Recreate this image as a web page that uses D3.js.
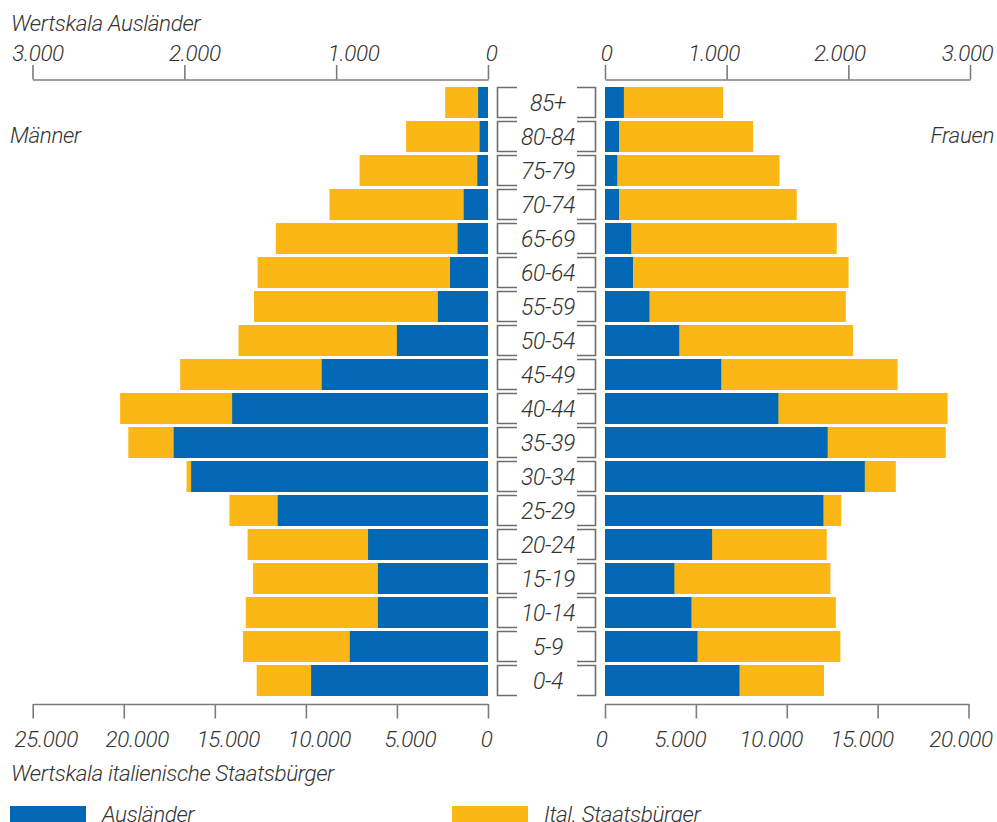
<!DOCTYPE html>
<html>
<head>
<meta charset="utf-8">
<script src="https://cdn.jsdelivr.net/npm/d3@7"></script>
<style>
  body { margin: 0; background: #fff; }
  svg text { font-family: Roboto, "Liberation Sans", sans-serif; font-weight: 300; font-style: italic; fill: #333; letter-spacing: -0.4px; }
</style>
</head>
<body>
<div id="container"></div>
<script>
// age groups, youngest first
const ages = ['0-4', '5-9', '10-14', '15-19', '20-24', '25-29', '30-34', '35-39', '40-44',
  '45-49', '50-54', '55-59', '60-64', '65-69', '70-74', '75-79', '80-84', '85+'];

// Männer
const maleForeign = [1165, 910, 725, 725, 790, 1385, 1955, 2070, 1685, 1095, 600, 330, 250, 200, 160, 70, 55, 65];
const maleItalian = [12700, 13450, 13300, 12900, 13200, 14200, 16550, 19750, 20200, 16900, 13700, 12850, 12650, 11650, 8700, 7050, 4500, 2350];

// Frauen
const femaleForeign = [1105, 760, 710, 570, 880, 1795, 2135, 1830, 1425, 955, 610, 365, 230, 215, 115, 100, 115, 155];
const femaleItalian = [12050, 12950, 12700, 12400, 12200, 13000, 16000, 18750, 18850, 16100, 13650, 13250, 13400, 12750, 10550, 9600, 8150, 6500];

const foreignTicks = [0, 1000, 2000, 3000];
const italianTicksLeft = [0, 5000, 10000, 15000, 20000, 25000];
const italianTicksRight = [0, 5000, 10000, 15000, 20000];

const blue = '#0267b4';
const yellow = '#fbb715';
const axisGrey = '#7c7c7c';
const fontSize = '22.5px';

const w = 997;
const h = 822;
const leftZero = 488;
const rightZero = 605;

const de = d3.formatLocale({ decimal: ',', thousands: '.', grouping: [3], currency: ['', '€'] });
const fmt = de.format(',');

const rows = ages.map((a, i) => ({
  age: a,
  mf: maleForeign[i], mi: maleItalian[i],
  ff: femaleForeign[i], fi: femaleItalian[i]
}));

const svg = d3.select('#container')
  .append('svg')
  .attr('width', w)
  .attr('height', h);

// scales
const yScale = d3.scaleBand()
  .domain(ages.slice().reverse())
  .range([87, 696])
  .paddingInner(3 / 34)
  .paddingOuter(0);

const xForeignL = d3.scaleLinear().domain([0, 3000]).range([leftZero, 32.5]);
const xForeignR = d3.scaleLinear().domain([0, 3000]).range([rightZero, 970]);
const xItalL = d3.scaleLinear().domain([0, 25000]).range([leftZero, 32.7]);
const xItalR = d3.scaleLinear().domain([0, 20000]).range([rightZero, 968.5]);

// yellow bars (italian citizens) behind
svg.selectAll('.bar-mi')
  .data(rows)
  .enter()
  .append('rect')
  .attr('class', 'bar-mi')
  .attr('x', d => xItalL(d.mi))
  .attr('y', d => yScale(d.age))
  .attr('width', d => leftZero - xItalL(d.mi))
  .attr('height', yScale.bandwidth())
  .attr('fill', yellow);

svg.selectAll('.bar-fi')
  .data(rows)
  .enter()
  .append('rect')
  .attr('class', 'bar-fi')
  .attr('x', rightZero)
  .attr('y', d => yScale(d.age))
  .attr('width', d => xItalR(d.fi) - rightZero)
  .attr('height', yScale.bandwidth())
  .attr('fill', yellow);

// blue bars (foreigners) on top, own scale
svg.selectAll('.bar-mf')
  .data(rows)
  .enter()
  .append('rect')
  .attr('class', 'bar-mf')
  .attr('x', d => xForeignL(d.mf))
  .attr('y', d => yScale(d.age))
  .attr('width', d => leftZero - xForeignL(d.mf))
  .attr('height', yScale.bandwidth())
  .attr('fill', blue);

svg.selectAll('.bar-ff')
  .data(rows)
  .enter()
  .append('rect')
  .attr('class', 'bar-ff')
  .attr('x', rightZero)
  .attr('y', d => yScale(d.age))
  .attr('width', d => xForeignR(d.ff) - rightZero)
  .attr('height', yScale.bandwidth())
  .attr('fill', blue);

// age labels with brackets
const lab = svg.selectAll('.age')
  .data(rows)
  .enter()
  .append('g')
  .attr('class', 'age')
  .attr('transform', d => `translate(0,${yScale(d.age)})`);

const bh = yScale.bandwidth() - 0.5;
lab.append('path')
  .attr('d', `M517,0.5H497.5V${bh}H517M577,0.5H595.5V${bh}H577`)
  .attr('fill', 'none')
  .attr('stroke', '#6e6e6e')
  .attr('stroke-width', 1.6);

lab.append('text')
  .attr('x', 548)
  .attr('y', yScale.bandwidth() / 2)
  .attr('dy', '0.36em')
  .attr('text-anchor', 'middle')
  .style('font-size', '23px')
  .text(d => d.age);

// axes; labels in the original sit a little off their ticks
function styleAxis(g, shift) {
  g.select('.domain').attr('stroke', axisGrey).attr('stroke-width', 1.6);
  g.selectAll('.tick line').attr('stroke', axisGrey).attr('stroke-width', 1.6);
  g.selectAll('.tick text')
    .attr('fill', '#333')
    .attr('dx', shift)
    .style('font-size', fontSize)
    .style('font-family', 'Roboto, "Liberation Sans", sans-serif');
}

svg.append('g')
  .attr('transform', 'translate(0,79.5)')
  .call(d3.axisTop(xForeignL).tickValues(foreignTicks).tickFormat(fmt)
    .tickSizeInner(14.5).tickSizeOuter(0).tickPadding(4))
  .call(styleAxis, d => (d === 0 ? 3 : d === 3000 ? 5 : d === 2000 ? 10 : 17));

svg.append('g')
  .attr('transform', 'translate(0,79.5)')
  .call(d3.axisTop(xForeignR).tickValues(foreignTicks).tickFormat(fmt)
    .tickSizeInner(14.5).tickSizeOuter(0).tickPadding(4))
  .call(styleAxis, d => (d === 0 ? 1 : d === 3000 ? -3 : d === 2000 ? -9 : -13));

svg.append('g')
  .attr('transform', 'translate(0,704)')
  .call(d3.axisBottom(xItalL).tickValues(italianTicksLeft).tickFormat(fmt)
    .tickSizeInner(14.5).tickSizeOuter(0).tickPadding(13))
  .call(styleAxis, d => (d === 0 ? -2 : 13));

svg.append('g')
  .attr('transform', 'translate(0,704)')
  .call(d3.axisBottom(xItalR).tickValues(italianTicksRight).tickFormat(fmt)
    .tickSizeInner(14.5).tickSizeOuter(0).tickPadding(13))
  .call(styleAxis, d => (d === 0 ? -4 : d === 20000 ? -8 : -16));

// titles
svg.append('text').attr('x', 11).attr('y', 31).style('font-size', fontSize).text('Wertskala Ausländer');
svg.append('text').attr('x', 11).attr('y', 781).style('font-size', fontSize).text('Wertskala italienische Staatsbürger');
svg.append('text').attr('x', 10).attr('y', 143).style('font-size', fontSize).text('Männer');
svg.append('text').attr('x', 994).attr('y', 143).attr('text-anchor', 'end').style('font-size', fontSize).text('Frauen');

// legend
const legendItems = [
  ['Ausländer', blue, 10],
  ['Ital. Staatsbürger', yellow, 452]
];
const legend = svg.selectAll('.legend')
  .data(legendItems)
  .enter()
  .append('g')
  .attr('class', 'legend')
  .attr('transform', d => `translate(${d[2]},0)`);

legend.append('rect')
  .attr('x', 0)
  .attr('y', 806)
  .attr('width', 76)
  .attr('height', 20)
  .attr('fill', d => d[1]);

legend.append('text')
  .attr('x', 92)
  .attr('y', 822)
  .style('font-size', fontSize)
  .text(d => d[0]);
</script>
</body>
</html>
